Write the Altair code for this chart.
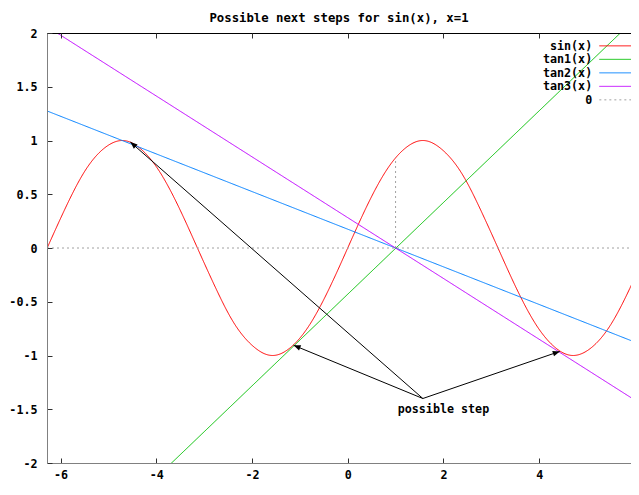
import math
import altair as alt
import pandas as pd

# ---- data ----
series_names = ["sin(x)", "tan1(x)", "tan2(x)", "tan3(x)", "0"]
series_colors = ["#ff0000", "#00c000", "#0080ff", "#c000ff", "#a0a0a0"]
series_dash = [[1, 0], [1, 0], [1, 0], [1, 0], [2, 3]]

sin_x = [-6.28, -5.89, -5.50, -5.11, -4.71, -4.32, -3.93, -3.53, -3.14, -2.75, -2.36,
         -1.96, -1.57, -1.18, -0.79, -0.39, 0.0, 0.39, 0.79, 1.18, 1.57, 1.96, 2.36,
         2.75, 3.14, 3.53, 3.93, 4.32, 4.71, 5.11, 5.50, 5.89, 6.28]
sin_y = [0.0, 0.38, 0.71, 0.92, 1.0, 0.92, 0.71, 0.38, 0.0, -0.38, -0.71,
         -0.92, -1.0, -0.92, -0.71, -0.38, 0.0, 0.38, 0.71, 0.92, 1.0, 0.92, 0.71,
         0.38, 0.0, -0.38, -0.71, -0.92, -1.0, -0.92, -0.71, -0.38, 0.0]

line_x = [-6.2832, 6.2832]
tan1_y = [-3.11, 2.25]
tan2_y = [1.275, -0.925]
tan3_y = [2.06, -1.495]
zero_y = [0.0, 0.0]

marker_x = [1.0]
marker_y0 = [0.0]
marker_y1 = [0.84]

step_from_x = 1.57
step_from_y = -1.4
step_to_x = [-4.54, -1.13, 4.43]
step_to_y = [0.985, -0.905, -0.962]
step_label = ["possible step"]
step_label_x = [2.0]
step_label_y = [-1.5]

x_ticks = [-6, -4, -2, 0, 2, 4, 6]
y_ticks = [-2, -1.5, -1, -0.5, 0, 0.5, 1, 1.5, 2]

title_text = "Possible next steps for sin(x), x=1"

# ---- layout ----
W, H = 584, 430
XDOM = [-6.2832, 5.919]
YDOM = [-2, 2]
FONT = "DejaVu Sans Mono"
px_x = W / (XDOM[1] - XDOM[0])
px_y = H / (YDOM[1] - YDOM[0])
TICK = 5
TICK_COLOR = "#303030"

rows = []
for xv, yv in zip(sin_x, sin_y):
    rows.append({"x": xv, "y": yv, "series": "sin(x)"})
for name, ys in [("tan1(x)", tan1_y), ("tan2(x)", tan2_y), ("tan3(x)", tan3_y), ("0", zero_y)]:
    for xv, yv in zip(line_x, ys):
        rows.append({"x": xv, "y": yv, "series": name})
lines_df = pd.DataFrame(rows)

arrows_df = pd.DataFrame({
    "x": [step_from_x] * len(step_to_x),
    "y": [step_from_y] * len(step_to_y),
    "x2": step_to_x,
    "y2": step_to_y,
})
arrows_df["angle"] = [
    (math.degrees(math.atan2(-(ty - step_from_y) * px_y, (tx - step_from_x) * px_x)) + 360) % 360
    for tx, ty in zip(step_to_x, step_to_y)
]

marker_df = pd.DataFrame({"x": marker_x, "y": marker_y0, "y2": marker_y1})
label_df = pd.DataFrame({"x": step_label_x, "y": step_label_y, "t": step_label})

xscale = alt.Scale(domain=XDOM, nice=False, zero=False)
yscale = alt.Scale(domain=YDOM, nice=False, zero=False)

label_expr = "datum.value + ''"
label_style = dict(labelFont=FONT, labelFontSize=11.7, labelFontWeight="bold",
                   labelColor="black", labelFlush=False, labelOverlap=False)

# ticks + labels (moved inside the frame so ticks point inward)
x_bottom = alt.Axis(values=x_ticks, orient="bottom", offset=-TICK, tickSize=TICK, domain=False,
                    grid=False, title=None, labelExpr=label_expr, labelPadding=6,
                    tickColor=TICK_COLOR, tickWidth=1, zindex=2, **label_style)
x_top = alt.Axis(values=x_ticks, orient="top", offset=-TICK, tickSize=TICK, domain=False,
                 grid=False, title=None, labels=False, tickColor=TICK_COLOR, tickWidth=1,
                 zindex=2)
y_left = alt.Axis(values=y_ticks, orient="left", offset=-TICK, tickSize=TICK, domain=False,
                  grid=False, title=None, labelExpr=label_expr, labelPadding=10,
                  tickColor=TICK_COLOR, tickWidth=1, zindex=2, **label_style)
# frame lines
x_bottom_frame = alt.Axis(orient="bottom", domain=True, domainColor="#808080", ticks=False,
                          labels=False, grid=False, title=None, zindex=2)
y_left_frame = alt.Axis(orient="left", domain=True, domainColor="#808080", ticks=False,
                        labels=False, grid=False, title=None, zindex=2)


def make_legend():
    return alt.Legend(orient="none", legendX=564.5, legendY=7, title=None,
                      labelAlign="right", labelOffset={"expr": "-31"},
                      symbolType="M-4,0L4,0", symbolSize=81,
                      symbolStrokeWidth=1, labelFont=FONT,
                      labelFontSize=11.7, labelFontWeight="bold",
                      labelColor="black", padding=0, rowPadding=0.5)


lines = alt.Chart(lines_df).mark_line(strokeWidth=1, clip=True, interpolate="natural").encode(
    x=alt.X("x:Q", scale=xscale, axis=x_bottom),
    y=alt.Y("y:Q", scale=yscale, axis=y_left),
    color=alt.Color("series:N", scale=alt.Scale(domain=series_names, range=series_colors),
                    legend=make_legend()),
    strokeDash=alt.StrokeDash("series:N", scale=alt.Scale(domain=series_names, range=series_dash),
                              legend=make_legend()),
    detail="series:N",
)

marker = alt.Chart(marker_df).mark_rule(color="#a0a0a0", strokeDash=[2, 3], strokeWidth=1).encode(
    x=alt.X("x:Q", scale=xscale, axis=x_top),
    y=alt.Y("y:Q", scale=yscale, axis=y_left_frame),
    y2="y2:Q",
)

arrow_lines = alt.Chart(arrows_df).mark_rule(color="black", strokeWidth=1).encode(
    x=alt.X("x:Q", scale=xscale, axis=x_bottom_frame),
    y=alt.Y("y:Q", scale=yscale, axis=None),
    x2="x2:Q",
    y2="y2:Q",
)

arrow_heads = alt.Chart(arrows_df).mark_point(
    shape="M0,0L-1,-0.4L-1,0.4Z", filled=True, color="black", opacity=1, size=196
).encode(
    x=alt.X("x2:Q", scale=xscale, axis=None),
    y=alt.Y("y2:Q", scale=yscale, axis=None),
    angle=alt.Angle("angle:Q", scale=None),
)

# top border of the frame (a plain frame line, not data)
top_frame = alt.Chart(label_df).mark_rule(color="black", strokeWidth=1).encode(
    x=alt.value(0), x2=alt.value(W), y=alt.value(0.5)
)

label = alt.Chart(label_df).mark_text(
    font=FONT, fontSize=11.7, fontWeight="bold", color="black", align="center", baseline="middle"
).encode(
    x=alt.X("x:Q", scale=xscale, axis=None),
    y=alt.Y("y:Q", scale=yscale, axis=None),
    text="t:N",
)

chart = alt.layer(lines, marker, arrow_lines, arrow_heads, label, top_frame).resolve_axis(
    x="independent", y="independent"
).properties(
    width=W,
    height=H,
    title=alt.TitleParams(title_text, font=FONT, fontSize=12.3, fontWeight="bold",
                          anchor="middle", offset=4, color="black"),
    autosize=alt.AutoSizeParams(type="none"),
    padding={"left": 39, "top": 25, "right": 0, "bottom": 20},
).configure_view(stroke=None)

chart.save("out.html", embed_options={"renderer": "svg", "actions": False})
